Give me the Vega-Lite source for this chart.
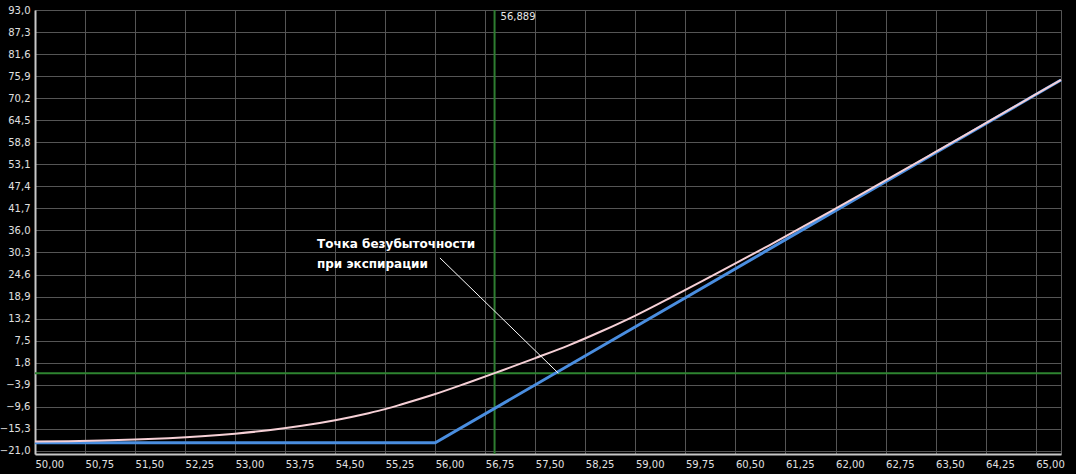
{
  "$schema": "https://vega.github.io/schema/vega-lite/v6.json",
  "width": 1026,
  "height": 444,
  "autosize": {"type": "none"},
  "padding": {"left": 35, "top": 10, "right": 15, "bottom": 20},
  "background": "#000000",
  "config": {
    "view": {"stroke": "#555555", "strokeWidth": 1},
    "axis": {
      "grid": true,
      "gridColor": "#555555",
      "gridWidth": 1,
      "domainColor": "#c8c8c8",
      "domainWidth": 2,
      "ticks": false,
      "labelColor": "#e0e0e0",
      "labelFont": "DejaVu Sans",
      "labelFontSize": 10,
      "labelOverlap": false,
      "labelFlush": false,
      "labelBound": false
    },
    "axisX": {"labelAlign": "left", "labelDx": 2, "labelPadding": 5},
    "axisY": {"labelPadding": 5, "labelBaseline": "middle"}
  },
  "datasets": {
    "expiry": [
      {"x": 50.0, "y": -18.9},
      {"x": 56.0, "y": -18.9},
      {"x": 65.38, "y": 74.9}
    ],
    "today": [
      {"x": 50.0, "y": -18.6},
      {"x": 50.5, "y": -18.5},
      {"x": 51.0, "y": -18.33},
      {"x": 51.5, "y": -18.08},
      {"x": 52.0, "y": -17.73},
      {"x": 52.5, "y": -17.23},
      {"x": 53.0, "y": -16.55},
      {"x": 53.5, "y": -15.65},
      {"x": 54.0, "y": -14.5},
      {"x": 54.5, "y": -13.05},
      {"x": 55.0, "y": -11.25},
      {"x": 55.25, "y": -10.2},
      {"x": 55.5, "y": -8.95},
      {"x": 56.0, "y": -6.3},
      {"x": 56.5, "y": -3.3},
      {"x": 56.889, "y": -0.9},
      {"x": 57.0, "y": -0.2},
      {"x": 57.5, "y": 3.0},
      {"x": 58.0, "y": 6.3},
      {"x": 58.5, "y": 10.0},
      {"x": 59.0, "y": 14.0},
      {"x": 59.5, "y": 18.4},
      {"x": 60.0, "y": 22.9},
      {"x": 60.5, "y": 27.5},
      {"x": 61.0, "y": 32.1},
      {"x": 61.5, "y": 36.85},
      {"x": 62.0, "y": 41.66},
      {"x": 62.5, "y": 46.5},
      {"x": 63.0, "y": 51.38},
      {"x": 63.5, "y": 56.3},
      {"x": 64.0, "y": 61.23},
      {"x": 64.5, "y": 66.19},
      {"x": 65.0, "y": 71.16},
      {"x": 65.38, "y": 74.96}
    ],
    "all": [
      {"x": 50.0, "y": -21.8},
      {"x": 65.38, "y": 93}
    ],
    "price": [{"x": 56.889, "label": "56,889"}],
    "zero": [{"y": -0.9}],
    "pointer": [{"x": 56.07, "y": 28.9, "x2": 57.845, "y2": -0.9}],
    "note": [
      {"x": 54.227, "y": 32.5, "text": "Точка безубыточности"},
      {"x": 54.227, "y": 27.3, "text": "при экспирации"}
    ]
  },
  "encoding": {
    "x": {
      "field": "x", "type": "quantitative", "title": null,
      "scale": {"domain": [50, 65.38], "nice": false, "zero": false},
      "axis": {
        "labelOverlap": false,
        "values": [50, 50.75, 51.5, 52.25, 53, 53.75, 54.5, 55.25, 56, 56.75, 57.5, 58.25, 59, 59.75, 60.5, 61.25, 62, 62.75, 63.5, 64.25, 65],
        "labelExpr": "replace(format(datum.value, '.2f'), '.', ',')"
      }
    },
    "y": {
      "field": "y", "type": "quantitative", "title": null,
      "scale": {"domain": [-21.8, 93], "nice": false, "zero": false},
      "axis": {
        "labelOverlap": false,
        "values": [-21, -15.3, -9.6, -3.9, 1.8, 7.5, 13.2, 18.9, 24.6, 30.3, 36, 41.7, 47.4, 53.1, 58.8, 64.5, 70.2, 75.9, 81.6, 87.3, 93],
        "labelExpr": "replace(format(datum.value, '.1f'), '.', ',')"
      }
    }
  },
  "layer": [
    {
      "data": {"name": "all"},
      "mark": {"type": "point", "opacity": 0}
    },
    {
      "data": {"name": "zero"},
      "mark": {"type": "rule", "color": "#2e8530", "strokeWidth": 2},
      "encoding": {"x": {"value": 0}, "x2": {"value": 1026}}
    },
    {
      "data": {"name": "price"},
      "mark": {"type": "rule", "color": "#2e7d30", "strokeWidth": 2},
      "encoding": {"y": {"value": 0}, "y2": {"value": 444}}
    },
    {
      "data": {"name": "price"},
      "mark": {"type": "text", "color": "#e8e8e8", "font": "DejaVu Sans", "fontSize": 10, "align": "left", "baseline": "middle", "dx": 6},
      "encoding": {
        "y": {"value": 7},
        "text": {"field": "label"}
      }
    },
    {
      "data": {"name": "expiry"},
      "mark": {"type": "line", "color": "#4a8ee0", "strokeWidth": 3}
    },
    {
      "data": {"name": "today"},
      "mark": {"type": "line", "color": "#f6d0d6", "strokeWidth": 2, "interpolate": "monotone"}
    },
    {
      "data": {"name": "pointer"},
      "mark": {"type": "rule", "color": "#ffffff", "strokeWidth": 1},
      "encoding": {
        "x2": {"field": "x2"},
        "y2": {"field": "y2"}
      }
    },
    {
      "data": {"name": "note"},
      "mark": {"type": "text", "color": "#ffffff", "font": "DejaVu Sans", "fontSize": 12, "fontWeight": "bold", "align": "left", "baseline": "middle"},
      "encoding": {
        "text": {"field": "text"}
      }
    }
  ]
}
